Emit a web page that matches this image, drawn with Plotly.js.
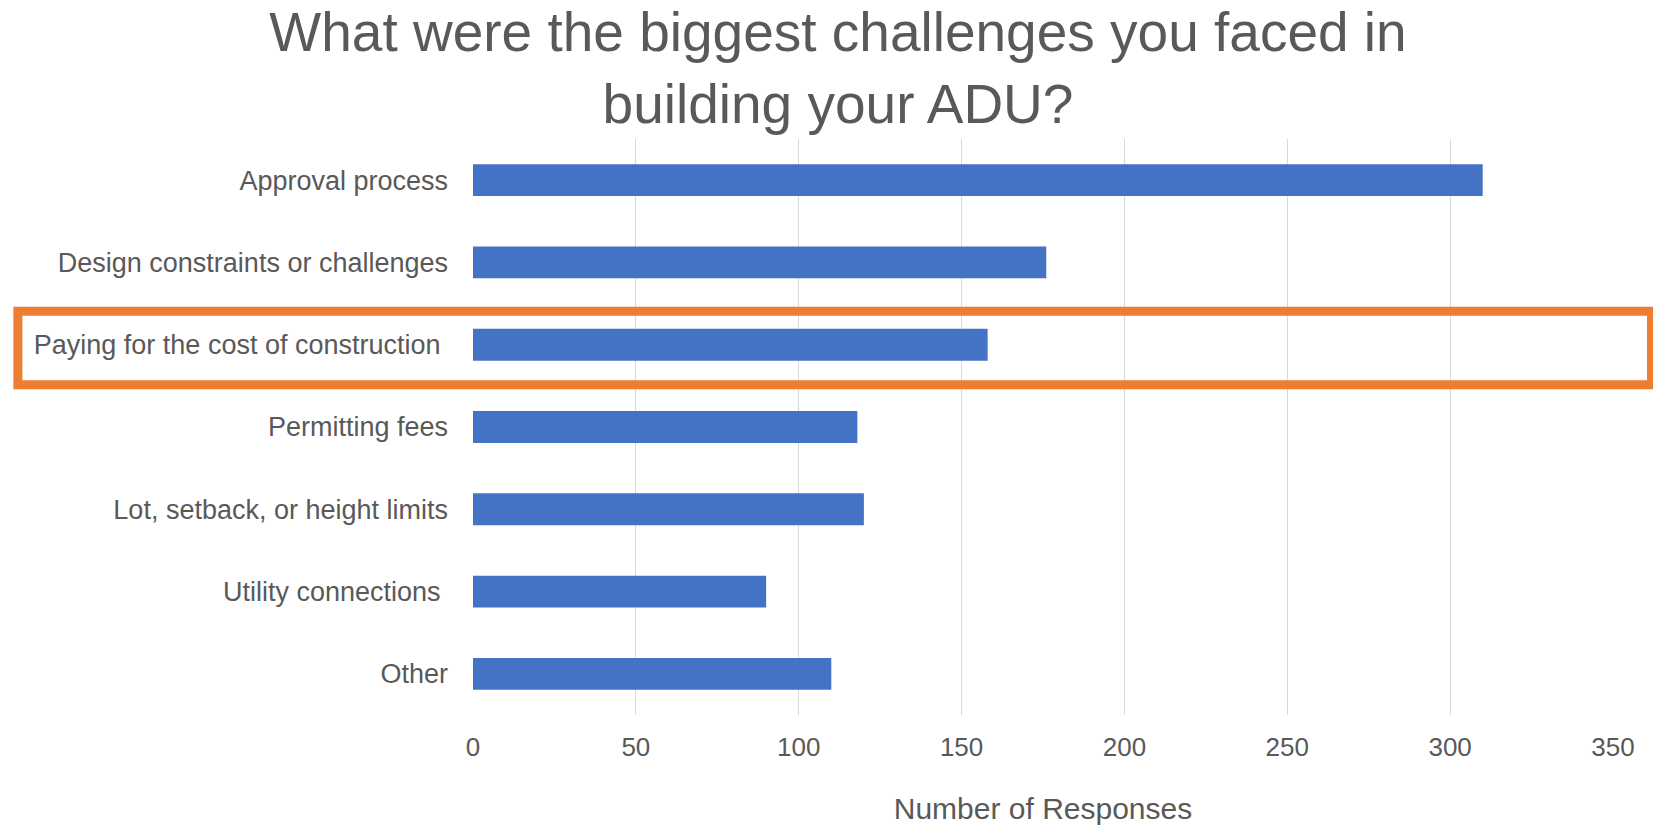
<!DOCTYPE html>
<html>
<head>
<meta charset="utf-8">
<script src="https://cdn.plot.ly/plotly-3.0.1.min.js"></script>
<style>html,body{margin:0;padding:0;background:#fff;}#chart{width:1653px;height:825px;}</style>
</head>
<body>
<div id="chart"></div>
<script>
var categories = [
  "Approval process",
  "Design constraints or challenges",
  "Paying for the cost of construction\u00A0",
  "Permitting fees",
  "Lot, setback, or height limits",
  "Utility connections\u00A0",
  "Other"
];
var responses = [310, 176, 158, 118, 120, 90, 110];
var xTickValues = [0, 50, 100, 150, 200, 250, 300, 350];
var chartTitle = "What were the biggest challenges you faced in<br>building your ADU?";
var xAxisTitle = "Number of Responses";

var W = 1653, H = 825;
var M = {l: 472.5, r: 40, t: 139, b: 110};
var pw = W - M.l - M.r, ph = H - M.t - M.b;
function px2x(p) { return (p - M.l) / pw; }
function px2y(p) { return (H - M.b - p) / ph; }

var textColor = "#595959";
var font = "Liberation Sans, Arial, sans-serif";

var data = [{
  type: "bar",
  orientation: "h",
  y: categories,
  x: responses,
  marker: {color: "#4472C4"},
  hoverinfo: "x+y"
}];

var layout = {
  width: W, height: H,
  margin: M,
  paper_bgcolor: "#fff",
  plot_bgcolor: "#fff",
  bargap: 0.613,
  showlegend: false,
  font: {family: font, color: textColor},
  title: {
    text: chartTitle,
    font: {family: font, size: 55, color: textColor},
    x: 838 / W, xanchor: "center",
    yref: "container", y: 1 - 51 / H, yanchor: "top"
  },
  xaxis: {
    range: [0, 350],
    tickvals: xTickValues,
    ticktext: xTickValues.map(String),
    showgrid: true,
    gridcolor: "#d9d9d9",
    gridwidth: 1,
    zeroline: false,
    showline: false,
    ticks: "",
    ticklabelstandoff: 14,
    tickfont: {family: font, size: 26, color: textColor},
    title: {text: xAxisTitle, font: {family: font, size: 30, color: textColor}, standoff: 36},
    fixedrange: true
  },
  yaxis: {
    autorange: "reversed",
    showgrid: false,
    zeroline: false,
    showline: false,
    ticks: "",
    ticklabelstandoff: 24,
    tickfont: {family: font, size: 27, color: textColor},
    fixedrange: true
  },
  shapes: [{
    type: "rect",
    xref: "paper", yref: "paper",
    x0: px2x(17.2), x1: px2x(1651.5),
    y0: px2y(384.7), y1: px2y(311.3),
    line: {color: "#ED7D31", width: 9},
    fillcolor: "rgba(0,0,0,0)",
    layer: "above"
  }]
};

Plotly.newPlot("chart", data, layout, {displayModeBar: false});
</script>
</body>
</html>
